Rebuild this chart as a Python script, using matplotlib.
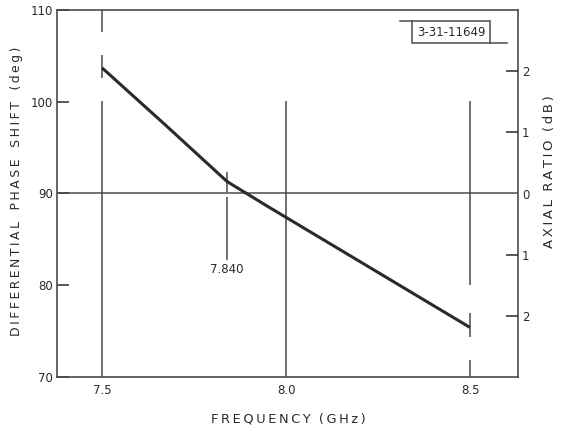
import matplotlib
matplotlib.use("Agg")
import matplotlib.pyplot as plt
from matplotlib.lines import Line2D

# Data
freq = [7.5, 7.67, 7.84, 7.95, 8.0, 8.25, 8.5]
phase = [103.7, 97.55, 91.3, 88.6, 87.4, 81.4, 75.4]

x_ticks = [7.5, 8.0, 8.5]
x_ticklabels = ["7.5", "8.0", "8.5"]
y_ticks = [70, 80, 90, 100, 110]
y_ticklabels = ["70", "80", "90", "100", "110"]
ar_ticks = [-2, -1, 0, 1, 2]
ar_ticklabels = ["2", "1", "0", "1", "2"]

# vertical marker segments: (x, y0, y1)
marker_segments = [
    (7.5, 107.6, 110.0), (7.5, 102.6, 105.1), (7.5, 70.0, 100.1),
    (8.0, 70.0, 100.1),
    (8.5, 80.0, 100.1), (8.5, 74.4, 77.0), (8.5, 70.0, 71.9),
    (7.84, 90.2, 92.3), (7.84, 82.8, 89.6),
]
marker_label = "7.840"
marker_x = 7.84
ref_line = 90
tag_text = "3-31-11649"

ink = "#2a2a2a"
grey = "#4a4a4a"


def spaced(s, sep="\u2009", gap="  "):
    words = s.split(" ")
    return gap.join(sep.join(w) for w in words)


fig = plt.figure(figsize=(5.66, 4.32), dpi=100)
ax = fig.add_axes([57/566, 1-377/432, (518-57)/566, (377-10)/432])
ax.set_xlim(7.3777, 8.6304)
ax.set_ylim(70, 110)

for xv, y0, y1 in marker_segments:
    ax.plot([xv, xv], [y0, y1], color=grey, lw=1.1, solid_capstyle="butt")
ax.axhline(ref_line, color=grey, lw=1.1)
ax.plot(freq, phase, color=ink, lw=2.2, solid_capstyle="butt")
ax.text(marker_x, 82.4, marker_label, ha="center", va="top", fontsize=8.5, color=ink)

for s in ax.spines.values():
    s.set_color(grey)
    s.set_linewidth(1.2)

ax.set_xticks(x_ticks)
ax.set_xticklabels(x_ticklabels)
ax.set_yticks(y_ticks)
ax.set_yticklabels(y_ticklabels)
ax.tick_params(axis="x", length=0, pad=5, labelsize=8.5, colors=ink)
ax.tick_params(axis="y", direction="in", length=8.5, width=1.1, pad=3, labelsize=8.5, colors=ink)
for t, v in zip(ax.yaxis.get_major_ticks(), y_ticks):
    if v in (70, 90, 110):
        t.tick1line.set_visible(False)
        t.tick2line.set_visible(False)

ax2 = ax.twinx()
ax2.set_ylim(-3, 3)
ax2.set_yticks(ar_ticks)
ax2.set_yticklabels(ar_ticklabels)
ax2.tick_params(axis="y", direction="in", length=8.5, width=1.1, pad=3, labelsize=8.5, colors=ink)
for t, v in zip(ax2.yaxis.get_major_ticks(), ar_ticks):
    if v == 0:
        t.tick1line.set_visible(False)
        t.tick2line.set_visible(False)
for s in ax2.spines.values():
    s.set_visible(False)

ax.set_xlabel(spaced("FREQUENCY (GHz)"), fontsize=9.3, color=ink)
ax.xaxis.set_label_coords((288-57)/461, -(419-377)/367)
ax.set_ylabel(spaced("DIFFERENTIAL PHASE SHIFT (deg)", gap="   "), fontsize=8.9, color=ink)
ax.yaxis.set_label_coords((17-57)/461, (377-191.5)/367)
ax2.set_ylabel(spaced("AXIAL RATIO (dB)"), fontsize=9.5, color=ink, rotation=90)
ax2.yaxis.set_label_coords((550-57)/461, (377-172)/367)
ax2.yaxis.label.set_va("center")
ax.yaxis.label.set_va("center")
ax.xaxis.label.set_va("center")

# tag box
ax.text((410+492)/2/566, 1-(32)/432, tag_text, transform=fig.transFigure,
        ha="center", va="center", fontsize=8.5, color=ink,
        bbox=dict(boxstyle="square,pad=0.4", fc="white", ec=grey, lw=1.1))
fig.add_artist(Line2D([400/566, 412/566], [1-21/432, 1-21/432], color=grey, lw=1.1, transform=fig.transFigure))
fig.add_artist(Line2D([490/566, 507/566], [1-43/432, 1-43/432], color=grey, lw=1.1, transform=fig.transFigure))

fig.savefig("out.png", dpi=100)
